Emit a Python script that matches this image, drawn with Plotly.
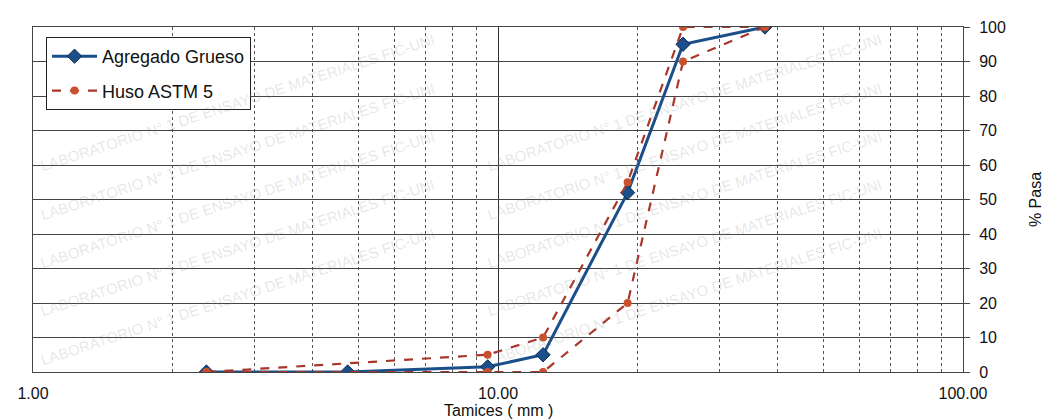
import plotly.graph_objects as go

# Data
sieves = [2.36, 4.75, 9.5, 12.5, 19.0, 25.0, 37.5]
agregado_grueso = [0, 0, 1.5, 5, 52, 95, 100]
huso_sieves = [2.36, 9.5, 12.5, 19.0, 25.0, 37.5]
huso_superior = [0, 5, 10, 55, 100, 100]
huso_inferior = [0, 0, 0, 20, 90, 100]
x_ticks = [1, 10, 100]
x_tick_text = ["1.00", "10.00", "100.00"]
x_minor = [2, 3, 4, 5, 6, 7, 8, 9, 20, 30, 40, 50, 60, 70, 80, 90]
y_ticks = list(range(0, 101, 10))
watermark = "LABORATORIO N° 1 DE ENSAYO DE MATERIALES FIC-UNI"

BLUE = "#1b4f8a"
RED_LINE = "#a8372b"
RED_MARK = "#c9502c"
FONT = "Liberation Sans, Arial, sans-serif"

fig = go.Figure()

# Watermark (faint, fully inside the figure)
for row in range(5):
    for col in range(2):
        fig.add_annotation(
            text=watermark, xref="paper", yref="paper",
            x=0.22 + col * 0.48, y=0.78 - row * 0.14,
            xanchor="center", yanchor="middle",
            showarrow=False, textangle=-18,
            font=dict(family=FONT, size=15, color="rgba(140,140,140,0.22)"),
        )

fig.add_trace(go.Scatter(
    x=sieves, y=agregado_grueso, mode="lines+markers", name="Agregado Grueso",
    legendgroup="a",
    line=dict(color=BLUE, width=3),
    marker=dict(symbol="diamond", size=11, color=BLUE, line=dict(color="#0d2c55", width=1)),
))
fig.add_trace(go.Scatter(
    x=huso_sieves, y=huso_superior, mode="lines+markers", name="Huso ASTM 5",
    legendgroup="b",
    line=dict(color=RED_LINE, width=2.2, dash="dash"),
    marker=dict(symbol="circle", size=8, color=RED_MARK),
))
fig.add_trace(go.Scatter(
    x=huso_sieves, y=huso_inferior, mode="lines+markers", name="Huso ASTM 5",
    legendgroup="b", showlegend=False,
    line=dict(color=RED_LINE, width=2.2, dash="dash"),
    marker=dict(symbol="circle", size=8, color=RED_MARK),
))

# x-axis title placed just under the tick labels
fig.add_annotation(
    text="Tamices ( mm )", xref="paper", yref="paper", x=0.5, y=0,
    xanchor="center", yanchor="middle", yshift=-38, showarrow=False,
    font=dict(family=FONT, size=16, color="#111111"),
)

fig.update_layout(
    width=1053, height=412,
    margin=dict(l=25, r=98, t=19, b=48, autoexpand=False),
    paper_bgcolor="white", plot_bgcolor="white",
    font=dict(family=FONT, size=16, color="#111111"),
    showlegend=True,
    legend=dict(
        x=0.014, y=0.971, xanchor="left", yanchor="top",
        bgcolor="white", bordercolor="#222222", borderwidth=1,
        font=dict(family=FONT, size=18, color="#111111"),
        itemwidth=45, tracegroupgap=8,
    ),
    xaxis=dict(
        type="log", range=[0, 2], automargin=False,
        tickvals=x_ticks, ticktext=x_tick_text,
        showgrid=True, gridcolor="#333333", gridwidth=1,
        minor=dict(tickvals=x_minor, showgrid=True, gridcolor="#555555", gridwidth=1, griddash="dot"),
        showline=True, linecolor="#444444", mirror=True,
        ticks="", ticklabelstandoff=7,
        tickfont=dict(size=16),
        zeroline=False,
    ),
    yaxis=dict(
        range=[0, 100], side="right", tickvals=y_ticks, automargin=False,
        showgrid=True, gridcolor="#444444", gridwidth=1,
        showline=True, linecolor="#444444", mirror=True,
        ticks="outside", ticklen=6, tickcolor="#444444",
        ticklabelstandoff=6, tickfont=dict(size=16),
        title=dict(text="% Pasa", standoff=24, font=dict(size=16)),
        zeroline=False,
    ),
)

fig.write_html("out.html")
